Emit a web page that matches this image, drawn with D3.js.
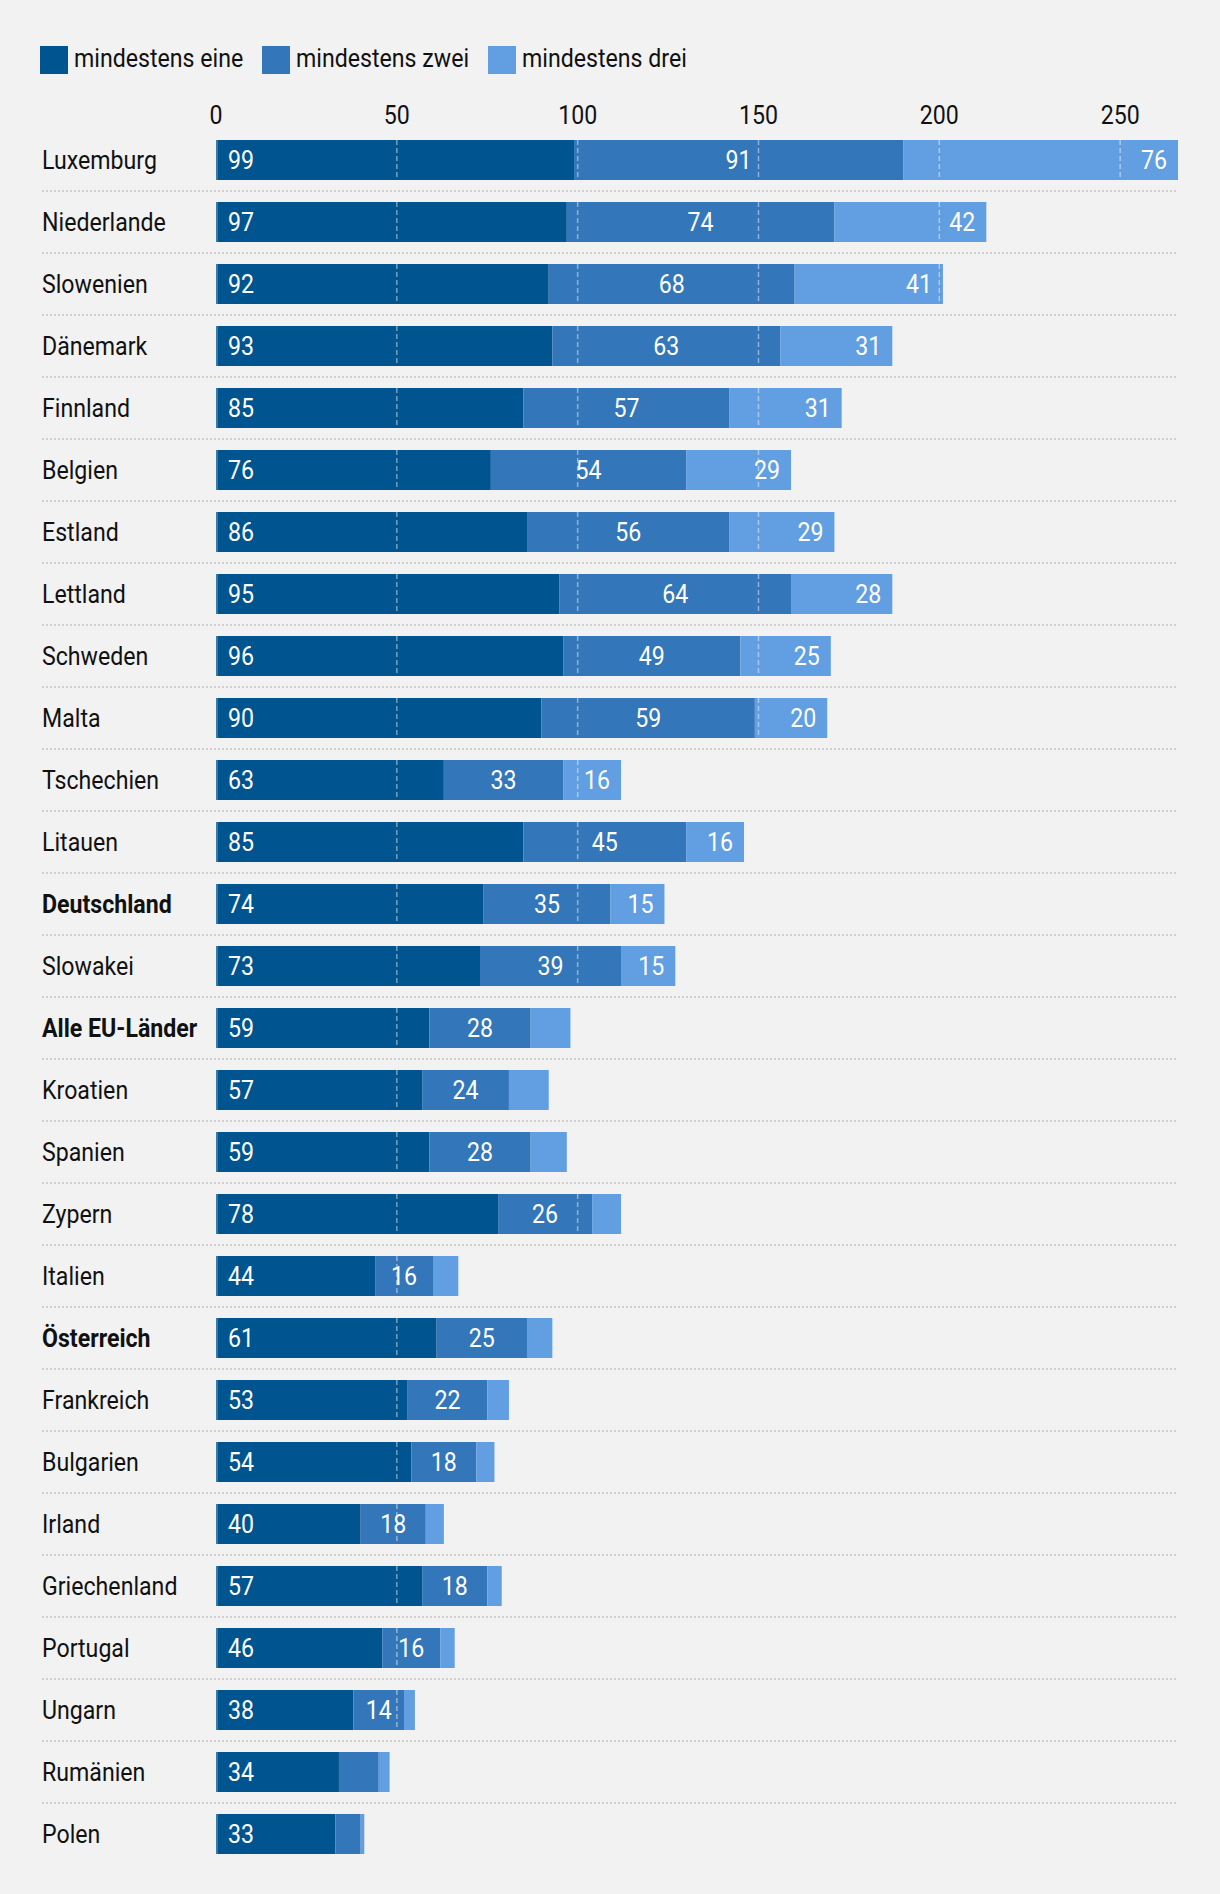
<!DOCTYPE html>
<html><head><meta charset="utf-8">
<script src="https://cdn.jsdelivr.net/npm/d3@7"></script>
<style>
html,body{margin:0;padding:0;background:#f2f2f2;}
svg{display:block;}
text{font-family:Roboto,'Noto Sans',sans-serif;}
</style></head><body>
<svg id="chart" width="1220" height="1894"></svg>
<script>
const countries = ["Luxemburg","Niederlande","Slowenien","Dänemark","Finnland","Belgien","Estland","Lettland","Schweden","Malta","Tschechien","Litauen","Deutschland","Slowakei","Alle EU-Länder","Kroatien","Spanien","Zypern","Italien","Österreich","Frankreich","Bulgarien","Irland","Griechenland","Portugal","Ungarn","Rumänien","Polen"];
const eine = [99,97,92,93,85,76,86,95,96,90,63,85,74,73,59,57,59,78,44,61,53,54,40,57,46,38,34,33];
const zwei = [91,74,68,63,57,54,56,64,49,59,33,45,35,39,28,24,28,26,16,25,22,18,18,18,16,14,11,7];
const drei = [76,42,41,31,31,29,29,28,25,20,16,16,15,15,11,11,10,8,7,7,6,5,5,4,4,3,3,1];
const seriesNames = ["mindestens eine","mindestens zwei","mindestens drei"];
const boldCountries = ["Deutschland","Alle EU-Länder","Österreich"];
const xTicks = [0,50,100,150,200,250];
const colors = ["#00548f","#3376b9","#619ee2"];

const svg = d3.select("#chart");
svg.append("rect").attr("width",1220).attr("height",1894).attr("fill","#f2f2f2");

// font condensation (reference uses a condensed face)
const FS = 25;
let K = 1;
{
  const t = svg.append("text").attr("font-size",FS).text("Luxemburg");
  const w0 = t.node().getComputedTextLength();
  t.remove();
  K = 115 / w0;
}
function addText(parent, x, y, str, o) {
  o = o || {};
  const g = parent.append("g").attr("transform", `translate(${x},${y}) scale(${K},1)`);
  const t = g.append("text")
    .attr("font-size", o.size || FS)
    .attr("text-anchor", o.anchor || "start")
    .attr("font-weight", o.weight || "normal")
    .attr("fill", o.fill || "#111")
    .attr("dy", o.dy || null)
    .text(str);
  return t;
}

const table = countries.map((c,i)=>({country:c, eine:eine[i], zwei:zwei[i], drei:drei[i]}));
const keys = ["eine","zwei","drei"];
const stack = d3.stack().keys(keys)(table);

const x = d3.scaleLinear().domain([0,266]).range([216,1178]);
const y = d3.scaleBand().domain(countries).range([129,1865]).paddingInner(22/62).paddingOuter(11/62);

// legend
const legendX = [40,262,488];
seriesNames.forEach((n,i)=>{
  svg.append("rect").attr("x",legendX[i]).attr("y",46).attr("width",28).attr("height",28).attr("fill",colors[i]);
  addText(svg, legendX[i]+34, 67, n, {size:25});
});

// tick labels
xTicks.forEach(v=>{
  addText(svg, x(v), 124, String(v), {anchor:"middle", size:25});
});

// separators
svg.append("g").selectAll("line").data(countries.slice(0,-1)).join("line")
  .attr("x1",42).attr("x2",1178)
  .attr("y1",d=>y(d)+y.bandwidth()+11).attr("y2",d=>y(d)+y.bandwidth()+11)
  .attr("stroke","#cfcfcf").attr("stroke-width",2).attr("stroke-dasharray","2 2");

// country labels
countries.forEach(c=>{
  addText(svg, 42, y(c)+y.bandwidth()/2, c, {size:25, dy:"0.36em", weight: boldCountries.includes(c)?"bold":"normal"});
});

// bars
const gBars = svg.append("g");
stack.forEach((s,si)=>{
  gBars.append("g").attr("fill",colors[si]).selectAll("rect").data(s).join("rect")
    .attr("x",d=>x(d[0])).attr("width",d=>x(d[1])-x(d[0]))
    .attr("y",d=>y(d.data.country)).attr("height",y.bandwidth());
});

// gridlines over bars
countries.forEach(c=>{
  const d = table.find(r=>r.country===c);
  const tot = d.eine+d.zwei+d.drei;
  xTicks.filter(v=>v>0 && v<tot).forEach(v=>{
    svg.append("line").attr("x1",x(v)).attr("x2",x(v)).attr("y1",y(c)).attr("y2",y(c)+y.bandwidth())
      .attr("stroke","rgba(255,255,255,0.45)").attr("stroke-width",1.5).attr("stroke-dasharray","5 3");
  });
  svg.append("line").attr("x1",x(0)+1).attr("x2",x(0)+1).attr("y1",y(c)).attr("y2",y(c)+y.bandwidth())
    .attr("stroke","rgba(255,255,255,0.22)").attr("stroke-width",2);
});

// value labels
const gLab = svg.append("g");
stack.forEach((s,si)=>{
  s.forEach(d=>{
    const v = d.data[keys[si]];
    if (v < 12) return;
    const cy = y(d.data.country)+y.bandwidth()/2;
    let tx, anchor;
    if (si===0) { tx = x(d[0])+12; anchor="start"; }
    else if (si===1) { tx = (x(d[0])+x(d[1]))/2; anchor="middle"; }
    else { tx = x(d[1])-11; anchor="end"; }
    addText(gLab, tx, cy, String(v), {size:25, anchor, fill:"#fff", dy:"0.36em"});
  });
});
</script>
</body></html>
